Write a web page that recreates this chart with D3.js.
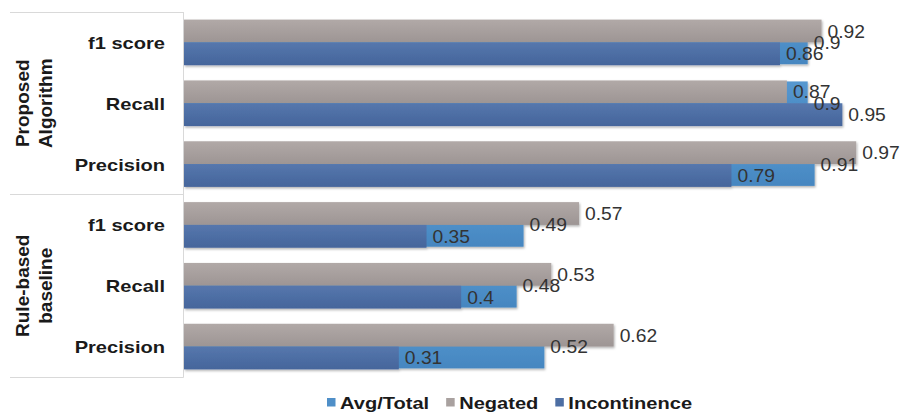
<!DOCTYPE html>
<html>
<head>
<meta charset="utf-8">
<script src="https://cdn.jsdelivr.net/npm/d3@7"></script>
<style>
  html, body { margin: 0; padding: 0; background: #fff; }
  svg { display: block; font-family: "Liberation Sans", Arial, sans-serif; }
</style>
</head>
<body>
<svg id="chart" width="901" height="414"></svg>
<script>
// ---- data ----
const groups = ["Proposed Algorithm", "Rule-based baseline"];
const metrics = ["f1 score", "Recall", "Precision"];
const seriesNames = ["Avg/Total", "Negated", "Incontinence"];
const avgTotal     = [0.90, 0.90, 0.91, 0.49, 0.48, 0.52];
const negated      = [0.92, 0.87, 0.97, 0.57, 0.53, 0.62];
const incontinence = [0.86, 0.95, 0.79, 0.35, 0.40, 0.31];

const rows = [];
groups.forEach((g, gi) => metrics.forEach((m, mi) => {
  const i = gi * metrics.length + mi;
  rows.push({ key: g + "|" + m, group: g, metric: m,
    avg: avgTotal[i], neg: negated[i], inc: incontinence[i] });
}));

const svg = d3.select("#chart");
const defs = svg.append("defs");

function grad(id, top, bottom) {
  const lg = defs.append("linearGradient").attr("id", id)
    .attr("x1", 0).attr("y1", 0).attr("x2", 0).attr("y2", 1);
  lg.append("stop").attr("offset", "0%").attr("stop-color", top);
  lg.append("stop").attr("offset", "100%").attr("stop-color", bottom);
}
grad("gGray", "#b1a9a7", "#9d9594");
grad("gDark", "#5677ad", "#45659b");
grad("gLight", "#5798d0", "#4586c0");

const f = defs.append("filter").attr("id", "shadow")
  .attr("x", "-5%").attr("y", "-20%").attr("width", "110%").attr("height", "160%");
f.append("feDropShadow").attr("dx", 1).attr("dy", 1.5).attr("stdDeviation", 0.8)
  .attr("flood-color", "#000").attr("flood-opacity", 0.3);

const x = d3.scaleLinear().domain([0, 1]).range([184, 877]);
const y = d3.scaleBand().domain(rows.map(r => r.key))
  .range([12, 377]).paddingInner(0.25).paddingOuter(0.125);
const bw = y.bandwidth();

function stretch(sel, k) {
  sel.each(function () {
    const len = this.getComputedTextLength();
    d3.select(this).attr("textLength", len * k).attr("lengthAdjust", "spacingAndGlyphs");
  });
}

// frame lines on the left
const lineColor = "#d9d9d9";
svg.append("line").attr("x1", 183.5).attr("x2", 183.5).attr("y1", 12).attr("y2", 377.5)
  .attr("stroke", lineColor);
[12.5, 194.5, 377.5].forEach(v => {
  svg.append("line").attr("x1", 10).attr("x2", 183.5).attr("y1", v).attr("y2", v)
    .attr("stroke", lineColor);
});

const bars = svg.append("g").attr("filter", "url(#shadow)");
// Avg/Total behind, full group height
bars.selectAll("rect.avg").data(rows).join("rect").attr("class", "avg")
  .attr("x", x(0)).attr("y", d => y(d.key) + 1)
  .attr("width", d => x(d.avg) - x(0)).attr("height", bw - 2)
  .attr("fill", "url(#gLight)");
// Negated on top half
bars.selectAll("rect.neg").data(rows).join("rect").attr("class", "neg")
  .attr("x", x(0)).attr("y", d => y(d.key))
  .attr("width", d => x(d.neg) - x(0)).attr("height", bw / 2)
  .attr("fill", "url(#gGray)");
// Incontinence on bottom half
bars.selectAll("rect.inc").data(rows).join("rect").attr("class", "inc")
  .attr("x", x(0)).attr("y", d => y(d.key) + bw / 2)
  .attr("width", d => x(d.inc) - x(0)).attr("height", bw / 2)
  .attr("fill", "url(#gDark)");

// value labels
const fmt = v => String(+v.toFixed(2));
const labels = svg.append("g").attr("font-size", 18).attr("fill", "#333");
const lab = [
  { k: "neg", off: bw / 4 },
  { k: "avg", off: bw / 2 },
  { k: "inc", off: 3 * bw / 4 }
];
lab.forEach(L => {
  labels.selectAll("text." + L.k).data(rows).join("text").attr("class", L.k)
    .attr("x", d => x(d[L.k]) + 6)
    .attr("y", d => y(d.key) + L.off + 6.5)
    .text(d => fmt(d[L.k]))
    .call(stretch, 1.07);
});

// category labels
svg.append("g").selectAll("text").data(rows).join("text")
  .attr("x", 165).attr("y", d => y(d.key) + bw / 2 + 6.5)
  .attr("text-anchor", "end").attr("font-weight", "bold").attr("font-size", 17)
  .attr("fill", "#1a1a1a")
  .text(d => d.metric)
  .call(stretch, 1.18);

// group labels (rotated)
groups.forEach((g, gi) => {
  const first = y(g + "|" + metrics[0]);
  const last = y(g + "|" + metrics[metrics.length - 1]) + bw;
  const cy = (y.step() * 0.125 * 0) + (12 + gi * 3 * y.step() + 12 + (gi + 1) * 3 * y.step()) / 2;
  const words = g.split(" ");
  const t = svg.append("text")
    .attr("transform", `translate(0,${cy}) rotate(-90)`)
    .attr("text-anchor", "middle").attr("font-weight", "bold").attr("font-size", 19)
    .attr("fill", "#1a1a1a");
  words.forEach((w, wi) => {
    t.append("tspan").attr("x", 0).attr("y", wi === 0 ? 29 : 52).text(w);
  });
});

// legend
const legColors = ["#4f8fc8", "#a9a19f", "#4d6ea3"];
let lx = 327;
seriesNames.forEach((s, i) => {
  svg.append("rect").attr("x", lx).attr("y", 398).attr("width", 8.5).attr("height", 8.5)
    .attr("fill", legColors[i]);
  const t = svg.append("text").attr("x", lx + 13).attr("y", 409)
    .attr("font-weight", "bold").attr("font-size", 17).attr("fill", "#1a1a1a").text(s);
  const len = t.node().getComputedTextLength();
  t.call(stretch, 1.18);
  lx += 13 + len * 1.18 + 17;
});
</script>
</body>
</html>
